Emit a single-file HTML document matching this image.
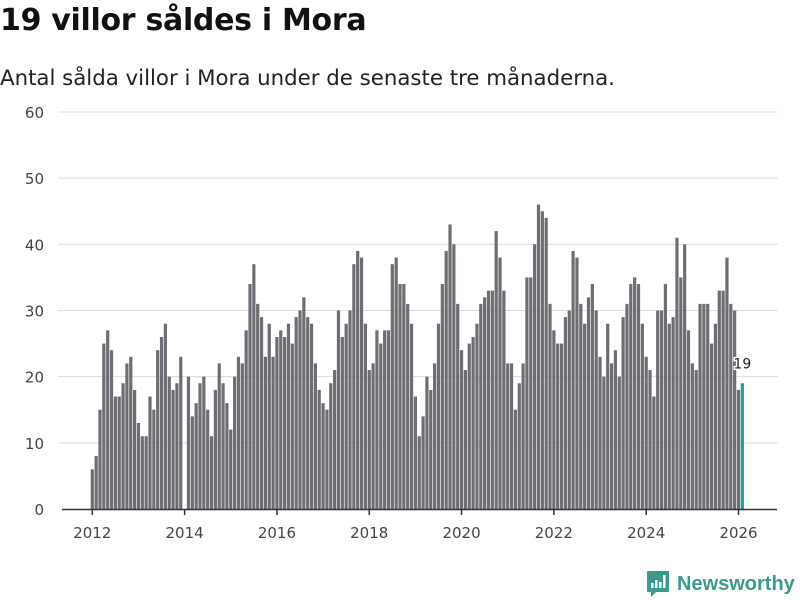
<!DOCTYPE html>
<html><head><meta charset="utf-8">
<style>
body{margin:0;width:800px;height:600px;background:#fff;font-family:"DejaVu Sans","Liberation Sans",sans-serif;overflow:hidden;position:relative}
#title{position:absolute;left:0;top:3px;font-size:30px;font-weight:bold;color:#111;margin:0;letter-spacing:-0.3px}
#sub{position:absolute;left:0;top:66px;font-size:21.3px;color:#222}
svg{position:absolute;left:0;top:0}
#logo{position:absolute;left:646px;top:570px;display:flex;align-items:center}
#logo span{color:#3a9a8c;font-weight:bold;margin-left:7px;font-family:"Liberation Sans",sans-serif;font-size:20px}
</style></head><body>
<div id="title">19 villor såldes i Mora</div>
<div id="sub">Antal sålda villor i Mora under de senaste tre månaderna.</div>
<svg id="chart" width="800" height="600"></svg>
<div id="logo">
<svg width="24" height="28" viewBox="0 0 24 28" style="position:static"><path d="M2 1h20a1 1 0 0 1 1 1v19a1 1 0 0 1-1 1H10l-5 5v-5H2a1 1 0 0 1-1-1V2a1 1 0 0 1 1-1z" fill="#3a9a8c"/><rect x="5" y="13" width="2.5" height="5" fill="#fff"/><rect x="9" y="10" width="2.5" height="8" fill="#fff"/><rect x="13" y="12" width="2.5" height="6" fill="#fff"/><rect x="17" y="5" width="2.5" height="13" fill="#fff"/></svg>
<span>Newsworthy</span></div>
<script>
const startYear = 2012;
const values = [
6,8,15,25,27,24,17,17,19,22,23,18,
13,11,11,17,15,24,26,28,20,18,19,23,
0,20,14,16,19,20,15,11,18,22,19,16,
12,20,23,22,27,34,37,31,29,23,28,23,
26,27,26,28,25,29,30,32,29,28,22,18,
16,15,19,21,30,26,28,30,37,39,38,28,
21,22,27,25,27,27,37,38,34,34,31,28,
17,11,14,20,18,22,28,34,39,43,40,31,
24,21,25,26,28,31,32,33,33,42,38,33,
22,22,15,19,22,35,35,40,46,45,44,31,
27,25,25,29,30,39,38,31,28,32,34,30,
23,20,28,22,24,20,29,31,34,35,34,28,
23,21,17,30,30,34,28,29,41,35,40,27,
22,21,31,31,31,25,28,33,33,38,31,30,
18,19];
const yTicks = [0,10,20,30,40,50,60];
const xTickYears = [2012,2014,2016,2018,2020,2022,2024,2026];

const svg = document.getElementById('chart');
const NS = 'http://www.w3.org/2000/svg';
const FONT = 'DejaVu Sans, Liberation Sans, sans-serif';
const y = v => 509 - v * (397/60);
const x = i => 92.3 + i * (646.2/168);
function mk(t, a){const e=document.createElementNS(NS,t);for(const k in a)e.setAttribute(k,a[k]);svg.appendChild(e);return e;}
yTicks.forEach(t=>{
  if(t>0){const g=mk('line',{x1:58,x2:778,y1:y(t),y2:y(t),stroke:'#dcdcdc','stroke-width':1});
  
  }
  const l=mk('text',{x:44,y:y(t)+6,'text-anchor':'end','font-size':15,fill:'#444','font-family':FONT});
  l.textContent=t;
  
  
});
values.forEach((v,i)=>{
  const last=i===values.length-1;
  const b=mk('rect',{x:x(i)-1.6,y:y(v),width:3.2,height:509-y(v),fill:last?'#1f9e96':'#6e6d73'});
  
  
});
const ax=mk('line',{x1:62,x2:777,y1:509.5,y2:509.5,stroke:'#333','stroke-width':1.5});


xTickYears.forEach(yr=>{
  const xi=x((yr-startYear)*12);
  const t=mk('line',{x1:xi,x2:xi,y1:509,y2:515,stroke:'#333','stroke-width':1.5});
  
  
  const l=mk('text',{x:xi,y:538,'text-anchor':'middle','font-size':15,fill:'#444','font-family':FONT});
  l.textContent=yr;
  
  
});
const li=values.length-1;
const lab=mk('text',{x:x(li),y:y(values[li])-15,'text-anchor':'middle','font-size':14,fill:'#222',stroke:'#fff','stroke-width':3,'paint-order':'stroke','font-family':FONT});
lab.textContent=values[li];


</script>
</body></html>
